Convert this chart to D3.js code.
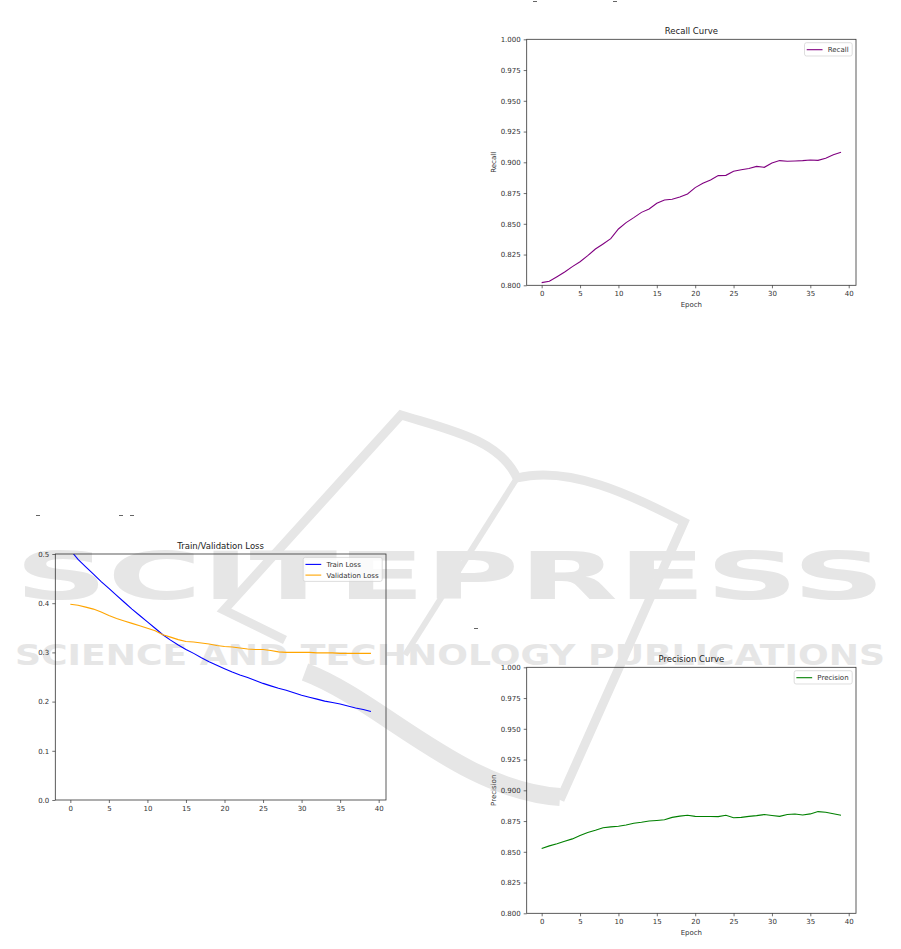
<!DOCTYPE html>
<html>
<head>
<meta charset="utf-8">
<script src="https://cdn.jsdelivr.net/npm/d3@7"></script>
<style>
  body { margin: 0; background: #fff; }
  svg { display: block; font-family: "DejaVu Sans", sans-serif; }
</style>
</head>
<body>
<svg id="chart" width="901" height="949"></svg>
<script>
// Values, one per epoch (0..39)
const epochs = d3.range(0, 40);

const recall = [
  0.8022, 0.8033, 0.8070, 0.8108, 0.8152, 0.8192, 0.8241, 0.8295, 0.8336, 0.8379,
  0.8458, 0.8510, 0.8550, 0.8593, 0.8620, 0.8667, 0.8694, 0.8700, 0.8718, 0.8743,
  0.8794, 0.8829, 0.8856, 0.8892, 0.8894, 0.8927, 0.8940, 0.8949, 0.8967, 0.8959,
  0.8994, 0.9014, 0.9008, 0.9011, 0.9014, 0.9019, 0.9016, 0.9033, 0.9062, 0.9081
];

const precision = [
  0.8527, 0.8548, 0.8565, 0.8585, 0.8605, 0.8632, 0.8657, 0.8675, 0.8695, 0.8703,
  0.8708, 0.8718, 0.8732, 0.8740, 0.8750, 0.8755, 0.8760, 0.8780, 0.8790, 0.8797,
  0.8788, 0.8787, 0.8787, 0.8786, 0.8797, 0.8777, 0.8780, 0.8788, 0.8794, 0.8803,
  0.8795, 0.8788, 0.8803, 0.8807, 0.8799, 0.8808, 0.8827, 0.8822, 0.8810, 0.8797
];

const trainLoss = [
  0.508, 0.489, 0.474, 0.459, 0.444, 0.430, 0.416, 0.402, 0.388, 0.375,
  0.362, 0.349, 0.336, 0.325, 0.315, 0.306, 0.298, 0.289, 0.281, 0.274,
  0.267, 0.260, 0.254, 0.249, 0.243, 0.237, 0.232, 0.227, 0.223, 0.218,
  0.213, 0.209, 0.205, 0.201, 0.198, 0.195, 0.191, 0.187, 0.184, 0.180
];

const valLoss = [
  0.398, 0.396, 0.392, 0.388, 0.382, 0.375, 0.369, 0.364, 0.359, 0.354,
  0.349, 0.344, 0.336, 0.331, 0.326, 0.322, 0.321, 0.319, 0.317, 0.314,
  0.312, 0.311, 0.309, 0.307, 0.306, 0.306, 0.304, 0.301, 0.300, 0.300,
  0.300, 0.300, 0.299, 0.299, 0.299, 0.298, 0.298, 0.298, 0.298, 0.298
];

const xTicks = [0, 5, 10, 15, 20, 25, 30, 35, 40];
const scoreTicks = [0.800, 0.825, 0.850, 0.875, 0.900, 0.925, 0.950, 0.975, 1.000];
const lossTicks = [0.0, 0.1, 0.2, 0.3, 0.4, 0.5];

const svg = d3.select('#chart');

// --- watermark (drawn first so the charts sit on top) ---
const wmColor = '#e6e6e6';
const wm = svg.append('g');

// book outline + right arm of the V
wm.append('path')
  .attr('fill', 'none').attr('stroke', wmColor).attr('stroke-width', 9)
  .attr('d', 'M 285,640 L 224,610 L 401,415 C 450,430 500,440 517,478 C 570,465 630,495 684,522 L 560,800');
// spine
wm.append('path')
  .attr('fill', 'none').attr('stroke', wmColor).attr('stroke-width', 6)
  .attr('d', 'M 517,478 L 405,655');
// swoosh at the bottom
wm.append('path')
  .attr('fill', 'none').attr('stroke', wmColor).attr('stroke-width', 18)
  .attr('d', 'M 305,672 C 380,700 460,790 560,797');

wm.append('text')
  .attr('x', 15).attr('y', 599)
  .attr('font-size', 66).attr('font-weight', 'bold')
  .attr('fill', wmColor)
  .attr('textLength', 870).attr('lengthAdjust', 'spacingAndGlyphs')
  .text('SCITEPRESS');

wm.append('text')
  .attr('x', 15).attr('y', 665)
  .attr('font-size', 29).attr('font-weight', 'bold')
  .attr('fill', wmColor)
  .attr('textLength', 870).attr('lengthAdjust', 'spacingAndGlyphs')
  .text('SCIENCE AND TECHNOLOGY PUBLICATIONS');

// stray underscore marks left over from the page text
const strayMarks = [[533, 1], [613, 1], [36, 515], [119, 515], [130, 515], [474, 628]];
svg.selectAll('.stray')
  .data(strayMarks)
  .enter().append('rect')
  .attr('class', 'stray')
  .attr('x', d => d[0]).attr('y', d => d[1])
  .attr('width', 4).attr('height', 1)
  .attr('fill', '#666');

// --- one matplotlib-like panel ---
function drawPanel(p) {
  const g = svg.append('g');
  const x = d3.scaleLinear().domain([-1.95, 40.95]).range([p.left, p.right]);
  const y = d3.scaleLinear().domain(p.yDomain).range([p.bottom, p.top]);

  const clipId = 'clip-' + p.id;
  g.append('clipPath').attr('id', clipId)
    .append('rect')
    .attr('x', p.left).attr('y', p.top)
    .attr('width', p.right - p.left).attr('height', p.bottom - p.top);

  const line = d3.line()
    .x((d, i) => x(epochs[i]))
    .y(d => y(d));

  p.series.forEach(s => {
    g.append('path')
      .datum(s.values)
      .attr('clip-path', `url(#${clipId})`)
      .attr('fill', 'none')
      .attr('stroke', s.color)
      .attr('stroke-width', 1.1)
      .attr('d', line);
  });

  // axes
  const xAxis = d3.axisBottom(x).tickValues(xTicks).tickSize(3).tickPadding(3).tickSizeOuter(0);
  const yAxis = d3.axisLeft(y).tickValues(p.yTicks).tickFormat(d3.format(p.yFormat))
    .tickSize(3).tickPadding(3).tickSizeOuter(0);

  const gx = g.append('g').attr('transform', `translate(0,${p.bottom})`).call(xAxis);
  const gy = g.append('g').attr('transform', `translate(${p.left},0)`).call(yAxis);
  [gx, gy].forEach(a => {
    a.select('.domain').remove();
    a.selectAll('line').attr('stroke', '#333').attr('stroke-width', 0.7);
    a.selectAll('text').attr('fill', '#333').attr('font-size', 7)
      .attr('font-family', '"DejaVu Sans", sans-serif');
  });

  // frame
  g.append('rect')
    .attr('x', p.left).attr('y', p.top)
    .attr('width', p.right - p.left).attr('height', p.bottom - p.top)
    .attr('fill', 'none').attr('stroke', '#333').attr('stroke-width', 0.8);

  // title + labels
  g.append('text')
    .attr('x', (p.left + p.right) / 2).attr('y', p.top - 5)
    .attr('text-anchor', 'middle').attr('font-size', 8.5).attr('fill', '#222')
    .text(p.title);

  if (p.xLabel) {
    g.append('text')
      .attr('x', (p.left + p.right) / 2).attr('y', p.bottom + 21.5)
      .attr('text-anchor', 'middle').attr('font-size', 7).attr('fill', '#333')
      .text(p.xLabel);
  }
  if (p.yLabel) {
    g.append('text')
      .attr('transform', `translate(${p.left - 31},${(p.top + p.bottom) / 2}) rotate(-90)`)
      .attr('text-anchor', 'middle').attr('font-size', 7).attr('fill', '#333')
      .text(p.yLabel);
  }

  // legend, upper right
  const rowH = 10.7;
  const leg = g.append('g');
  const box = leg.append('rect')
    .attr('fill', '#fff').attr('fill-opacity', 0.8)
    .attr('stroke', '#d0d0d0').attr('stroke-width', 0.7)
    .attr('rx', 2);
  let maxW = 0;
  p.series.forEach((s, i) => {
    const cy = 7 + i * rowH;
    leg.append('line')
      .attr('x1', 2.2).attr('x2', 18).attr('y1', cy).attr('y2', cy)
      .attr('stroke', s.color).attr('stroke-width', 1.1);
    const t = leg.append('text')
      .attr('x', 23.2).attr('y', cy).attr('dy', '0.35em')
      .attr('font-size', 7).attr('fill', '#333')
      .text(s.name);
    maxW = Math.max(maxW, t.node().getComputedTextLength());
  });
  const boxW = 23.2 + maxW + 3.6;
  const boxH = 13.3 + (p.series.length - 1) * rowH;
  box.attr('width', boxW).attr('height', boxH);
  leg.attr('transform', `translate(${p.right - 3.8 - boxW},${p.top + 3.4})`);
}

drawPanel({
  id: 'recall', title: 'Recall Curve', xLabel: 'Epoch', yLabel: 'Recall',
  left: 526.7, right: 856, top: 39.3, bottom: 285.3,
  yDomain: [0.8, 1.0], yTicks: scoreTicks, yFormat: '.3f',
  series: [{ name: 'Recall', color: '#800080', values: recall }]
});

drawPanel({
  id: 'loss', title: 'Train/Validation Loss', xLabel: null, yLabel: null,
  left: 55.3, right: 386, top: 554, bottom: 800,
  yDomain: [0, 0.5], yTicks: lossTicks, yFormat: '.1f',
  series: [
    { name: 'Train Loss', color: '#0000ff', values: trainLoss },
    { name: 'Validation Loss', color: '#ffa500', values: valLoss }
  ]
});

drawPanel({
  id: 'precision', title: 'Precision Curve', xLabel: 'Epoch', yLabel: 'Precision',
  left: 526.7, right: 856, top: 667.3, bottom: 913.3,
  yDomain: [0.8, 1.0], yTicks: scoreTicks, yFormat: '.3f',
  series: [{ name: 'Precision', color: '#008000', values: precision }]
});
</script>
</body>
</html>
